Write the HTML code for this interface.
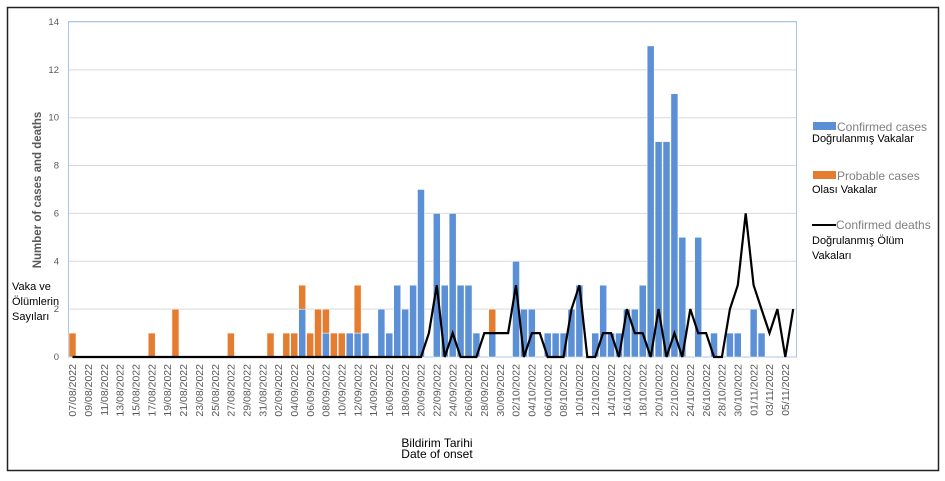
<!DOCTYPE html>
<html><head><meta charset="utf-8"><style>
html,body{margin:0;padding:0;background:#fff;}
svg{display:block;font-family:"Liberation Sans",sans-serif;}
</style></head><body>
<svg id="s" width="945" height="481" xmlns="http://www.w3.org/2000/svg">
<rect x="0" y="0" width="945" height="481" fill="#fff"/>
<rect x="7.5" y="7.5" width="931" height="463" fill="none" stroke="#222" stroke-width="1.5"/>
<g id="grid"></g>
<rect x="68.5" y="21.5" width="728" height="335.5" fill="none" stroke="#a9c4e8" stroke-width="1"/>
<g id="bars"></g>
<polyline id="deaths" fill="none" stroke="#000" stroke-width="2.2" stroke-linejoin="miter"/>
<g id="xl" font-size="10.5" fill="#595959"></g>
<g id="yl" font-size="9.5" fill="#595959" text-anchor="end"></g>
<text transform="translate(41,190) rotate(-90)" text-anchor="middle" font-size="11.5" font-weight="bold" fill="#595959">Number of cases and deaths</text>
<g font-size="11" fill="#000">
<text x="12" y="290">Vaka ve</text>
<text x="12" y="305">Ölümlerin</text>
<text x="12" y="320">Sayıları</text>
</g>
<text x="437" y="447" text-anchor="middle" font-size="12" fill="#000">Bildirim Tarihi</text>
<text x="437" y="458" text-anchor="middle" font-size="12" fill="#000">Date of onset</text>
<rect x="813" y="122" width="23" height="8" fill="#5b8fd6"/>
<text x="837" y="131" font-size="12" fill="#7f7f7f">Confirmed cases</text>
<text x="812" y="142" font-size="11" fill="#000">Doğrulanmış Vakalar</text>
<rect x="813" y="171" width="23" height="8" fill="#e57d30"/>
<text x="837" y="180" font-size="12" fill="#7f7f7f">Probable cases</text>
<text x="812" y="193" font-size="11" fill="#000">Olası Vakalar</text>
<line x1="812" y1="225" x2="836" y2="225" stroke="#000" stroke-width="2"/>
<text x="836" y="229" font-size="12" fill="#7f7f7f">Confirmed deaths</text>
<text x="812" y="244" font-size="11" fill="#000">Doğrulanmış Ölüm</text>
<text x="812" y="259" font-size="11" fill="#000">Vakaları</text>
</svg>
<script>
var NS="http://www.w3.org/2000/svg";
function el(p,t,a,txt){var e=document.createElementNS(NS,t);for(var k in a)e.setAttribute(k,a[k]);if(txt!==undefined)e.textContent=txt;document.getElementById(p).appendChild(e);return e;}
var U=23.93;function Y(v){return 357-U*v;}function C(i){return 72.5+7.92*i;}
for(var v=2;v<=14;v+=2){el("grid","line",{x1:68,x2:797,y1:Y(v),y2:Y(v),stroke:"#d9d9d9","stroke-width":1});}
for(var v=0;v<=14;v+=2){el("yl","text",{x:59,y:Y(v)+3},String(v));}
var blue={29:2,32:1,35:1,36:1,37:1,39:2,40:1,41:3,42:2,43:3,44:7,46:6,47:3,48:6,49:3,50:3,51:1,53:1,56:4,57:2,58:2,60:1,61:1,62:1,63:2,64:3,66:1,67:3,68:1,69:1,70:2,71:2,72:3,73:13,74:9,75:9,76:11,77:5,79:5,81:1,83:1,84:1,86:2,87:1};
var orange={0:[0,1],10:[0,1],13:[0,2],20:[0,1],25:[0,1],27:[0,1],28:[0,1],29:[2,1],30:[0,1],31:[0,2],32:[1,1],33:[0,1],34:[0,1],36:[1,2],53:[1,1]};
for(var i in blue){var v=blue[i];el("bars","rect",{x:C(+i)-3.5,y:Y(v),width:7,height:U*v,fill:"#5b8fd6",stroke:"#fff","stroke-width":0.5});}
for(var i in orange){var o=orange[i];el("bars","rect",{x:C(+i)-3.5,y:Y(o[0]+o[1]),width:7,height:U*o[1],fill:"#e57d30",stroke:"#fff","stroke-width":0.5});}
var d={45:1,46:3,47:0,48:1,49:0,50:0,51:0,52:1,53:1,54:1,55:1,56:3,57:0,58:1,59:1,60:0,61:0,62:0,63:2,64:3,65:0,66:0,67:1,68:1,69:0,70:2,71:1,72:1,73:0,74:2,75:0,76:1,77:0,78:2,79:1,80:1,81:0,82:0,83:2,84:3,85:6,86:3,87:2,88:1,89:2,90:0,91:2};
var pts=[];for(var i=0;i<=91;i++){var v=d[i]||0;pts.push(C(i).toFixed(1)+","+Y(v).toFixed(1));}
document.getElementById("deaths").setAttribute("points",pts.join(" "));
var base=Date.UTC(2022,7,7);
for(var i=0;i<=90;i+=2){var dt=new Date(base+i*86400000);var s=("0"+dt.getUTCDate()).slice(-2)+"/"+("0"+(dt.getUTCMonth()+1)).slice(-2)+"/"+dt.getUTCFullYear();
el("xl","text",{transform:"translate("+(C(i)+3.7)+",364) rotate(-90)","text-anchor":"end"},s);}
</script>
</body></html>
